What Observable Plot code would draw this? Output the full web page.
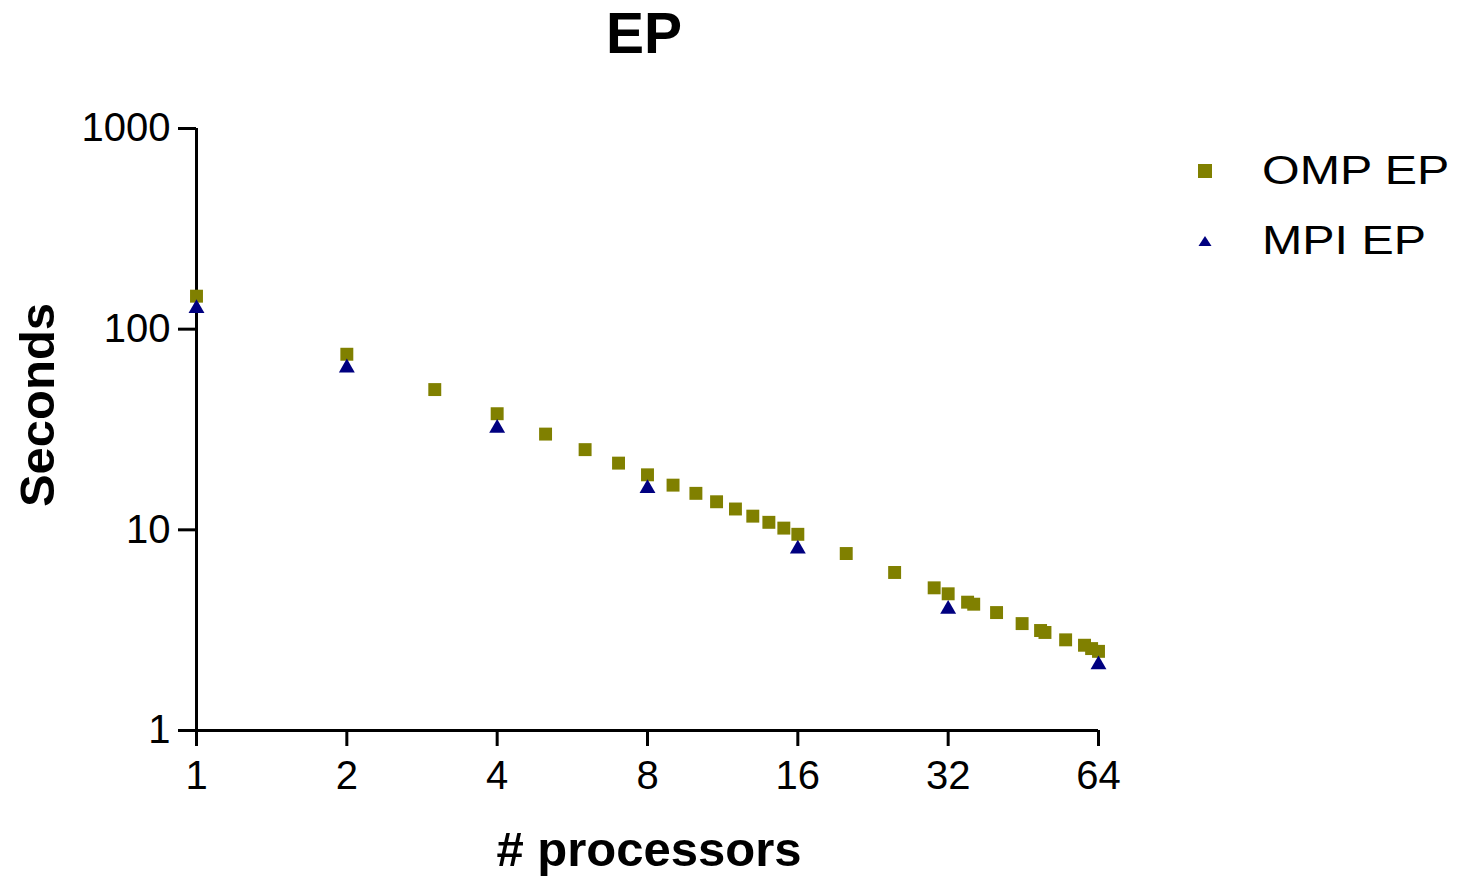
<!DOCTYPE html>
<html>
<head>
<meta charset="utf-8">
<script src="https://cdn.jsdelivr.net/npm/d3@7"></script>
<script src="https://cdn.jsdelivr.net/npm/@observablehq/plot@0.6"></script>
<style>
  html, body { margin: 0; padding: 0; background: #fff; }
  #wrap { position: relative; width: 1460px; height: 878px; font-family: "Liberation Sans", Arial, sans-serif; color: #000; }
  #chart { position: absolute; left: 0; top: 0; }
  .title { position: absolute; left: 644px; top: 0; transform: translateX(-50%); font-weight: bold; font-size: 57px; line-height: 1; padding-top: 5px; white-space: nowrap; }
  .xlabel { position: absolute; left: 649px; top: 825px; transform: translateX(-50%); font-weight: bold; font-size: 49px; line-height: 1; white-space: nowrap; }
  .ylabel { position: absolute; left: 37px; top: 405px; transform: translate(-50%, -50%) rotate(-90deg); font-weight: bold; font-size: 49px; line-height: 1; white-space: nowrap; }
  .leg { position: absolute; left: 1190px; display: flex; align-items: center; white-space: nowrap; }
  .leg svg { width: 30px; height: 30px; }
  .leg span { font-size: 41px; line-height: 1; display: inline-block; transform: scaleX(1.18); transform-origin: left center; margin-left: 42px; }
</style>
</head>
<body>
<div id="wrap">
  <div id="chart"></div>
</div>
<script>
// ---- data ----
const ompProcs = [1, 2, 3, 4, 5, 6, 7, 8, 9, 10, 11, 12, 13, 14, 15, 16, 20, 25, 30, 32, 35, 36, 40, 45, 49, 50, 55, 60, 62, 64];
const ompSeconds = [146, 75, 50, 37.9, 30, 25.1, 21.5, 18.8, 16.7, 15.2, 13.8, 12.7, 11.7, 10.9, 10.2, 9.5, 7.62, 6.13, 5.14, 4.80, 4.36, 4.26, 3.87, 3.41, 3.15, 3.08, 2.83, 2.66, 2.56, 2.48];
const mpiProcs = [1, 2, 4, 8, 16, 32, 64];
const mpiSeconds = [127, 64.2, 32.1, 16.1, 8.04, 4.02, 2.13];
const xTicks = [1, 2, 4, 8, 16, 32, 64];
const yTicks = [1, 10, 100, 1000];
const seriesNames = ["OMP EP", "MPI EP"];
const seriesColors = ["#808000", "#000080"];
const titleText = "EP";
const xLabel = "# processors";
const yLabel = "Seconds";

const omp = ompProcs.map((p, i) => ({procs: p, seconds: ompSeconds[i]}));
const mpi = mpiProcs.map((p, i) => ({procs: p, seconds: mpiSeconds[i]}));

const chart = Plot.plot({
  width: 1460,
  height: 878,
  marginLeft: 196,
  marginRight: 362,
  marginTop: 128,
  marginBottom: 148,
  style: {fontFamily: "'Liberation Sans', Arial, sans-serif", fontSize: "40px", color: "#000", background: "#fff", overflow: "visible"},
  x: {type: "log", base: 2, domain: [1, 64]},
  y: {type: "log", base: 10, domain: [1, 1000]},
  marks: [
    Plot.axisX({ticks: xTicks, tickFormat: d => String(d), tickSize: 16, tickPadding: 14, strokeWidth: 3, fontSize: 40, label: null}),
    Plot.axisY({ticks: yTicks, tickFormat: d => String(d), tickSize: 18, tickPadding: 8, strokeWidth: 3, fontSize: 40, label: null}),
    Plot.ruleX([1], {stroke: "#000", strokeWidth: 3}),
    Plot.ruleY([1], {stroke: "#000", strokeWidth: 3}),
    Plot.dot(omp, {x: "procs", y: "seconds", symbol: "square", r: 7.3, fill: seriesColors[0], stroke: "none"}),
    Plot.dot(mpi, {x: "procs", y: "seconds", symbol: "triangle", r: 5.9, fill: seriesColors[1], stroke: "none"})
  ]
});
document.getElementById("chart").appendChild(chart);

const wrap = document.getElementById("wrap");
const t = document.createElement("div");
t.className = "title"; t.textContent = titleText; wrap.appendChild(t);
const xl = document.createElement("div");
xl.className = "xlabel"; xl.textContent = xLabel; wrap.appendChild(xl);
const yl = document.createElement("div");
yl.className = "ylabel"; yl.textContent = yLabel; wrap.appendChild(yl);

const legTops = [150, 220];
seriesNames.forEach((name, i) => {
  const d = document.createElement("div");
  d.className = "leg";
  d.style.top = legTops[i] + "px";
  const glyph = i === 0
    ? `<svg viewBox="0 0 30 30"><rect x="8" y="8" width="14" height="14" fill="${seriesColors[0]}"/></svg>`
    : `<svg viewBox="0 0 30 30"><polygon points="15,10 21.5,20 8.5,20" fill="${seriesColors[1]}"/></svg>`;
  d.innerHTML = glyph + `<span>${name}</span>`;
  wrap.appendChild(d);
});
</script>
</body>
</html>
